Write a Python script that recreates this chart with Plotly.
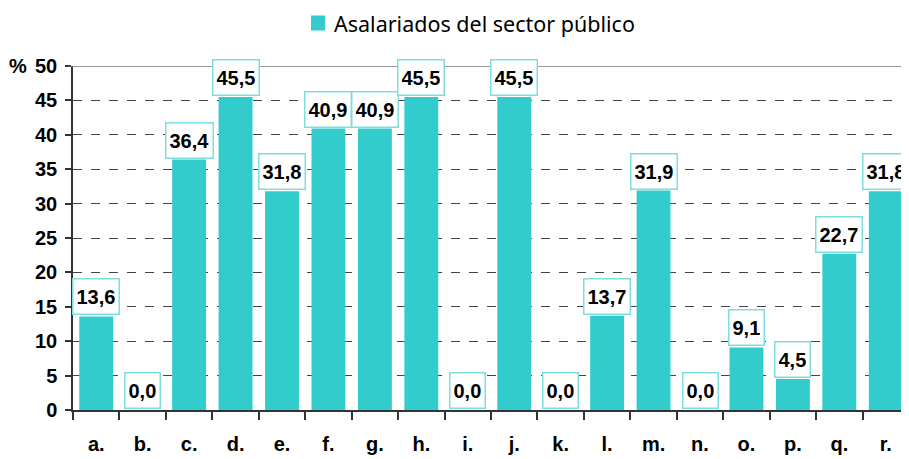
import plotly.graph_objects as go

categories = ["a.", "b.", "c.", "d.", "e.", "f.", "g.", "h.", "i.", "j.",
              "k.", "l.", "m.", "n.", "o.", "p.", "q.", "r."]
values = [13.6, 0.0, 36.4, 45.5, 31.8, 40.9, 40.9, 45.5, 0.0, 45.5,
          0.0, 13.7, 31.9, 0.0, 9.1, 4.5, 22.7, 31.8]
series_name = "Asalariados del sector público"
y_ticks = [0, 5, 10, 15, 20, 25, 30, 35, 40, 45, 50]

bar_color = "#33CCCC"
bold_font = dict(family="Liberation Sans, Arial", size=20, color="black", weight="bold")

fig = go.Figure()
fig.add_trace(go.Bar(
    x=categories, y=values, name=series_name,
    marker=dict(color=bar_color, line=dict(width=0)),
    showlegend=False,
))

for c, v in zip(categories, values):
    fig.add_annotation(
        x=c, y=v, xref="x", yref="y",
        text=f"{v:.1f}".replace(".", ","),
        showarrow=False, yanchor="bottom", yshift=1,
        font=bold_font,
        bgcolor="white", bordercolor="#7FDDDD", borderwidth=1.5,
        borderpad=3, height=28,
    )

fig.add_annotation(
    x=-0.066, y=50, xref="paper", yref="y", text="%", showarrow=False,
    xanchor="center", yanchor="middle", font=bold_font,
)

# legend (series name with colour key)
fig.add_shape(type="rect", xref="paper", yref="paper",
              x0=0.2847, x1=0.3014, y0=1.1032, y1=1.1468,
              fillcolor=bar_color, line=dict(width=0))
fig.add_annotation(
    x=0.311, y=1.125, xref="paper", yref="paper", text=series_name,
    showarrow=False, xanchor="left", yanchor="middle", borderpad=0,
    font=dict(family="Noto Sans", size=21.5, color="black"),
)

# top frame line
fig.add_shape(type="line", xref="paper", yref="y", x0=-0.006, x1=1, y0=50, y1=50,
              line=dict(color="#777777", width=1.5))

fig.update_layout(
    width=901, height=451,
    margin=dict(l=65, r=0, t=58, b=49),
    paper_bgcolor="white", plot_bgcolor="white",
    bargap=0.27,
    showlegend=False,
    xaxis=dict(
        type="category", tickson="boundaries", ticks="outside", ticklen=8,
        tickcolor="#333333", tickwidth=1.5,
        showline=True, linecolor="#333333", linewidth=1.5,
        showgrid=False, automargin=False,
        tickfont=bold_font,
        ticklabelstandoff=15,
        range=[-0.5, 17.5],
    ),
    yaxis=dict(
        range=[0, 50], tickvals=y_ticks, ticks="outside", ticklen=6,
        tickcolor="#333333", tickwidth=1.5,
        showline=True, linecolor="#333333", linewidth=1.5,
        showgrid=True, gridcolor="#444444", griddash="dash", gridwidth=1,
        tickfont=bold_font, automargin=False,
        ticklabelstandoff=4,
        zeroline=False,
    ),
)

fig.write_html("out.html")
